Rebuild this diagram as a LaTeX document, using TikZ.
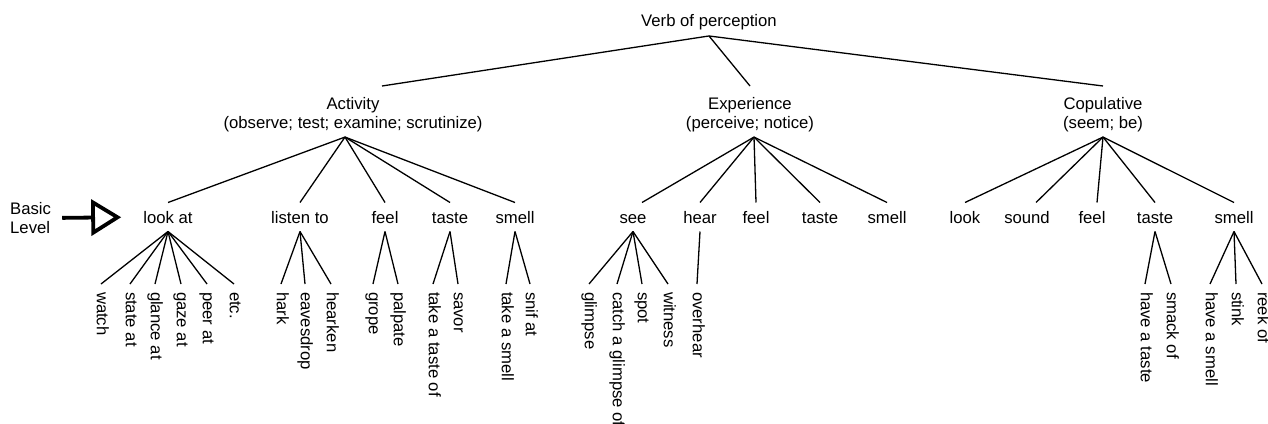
\documentclass[tikz,border=0pt]{standalone}
\usepackage{fontspec}
\setmainfont{Liberation Sans}
\usetikzlibrary{arrows.meta}

\begin{document}
\begin{tikzpicture}[
        x=1pt, y=-1pt,
        font=\fontsize{16.7}{19}\selectfont,
        cat/.style={align=center, inner sep=0pt, outer ysep=5.5pt, anchor=north},
        levelword/.style={inner sep=0pt, text height=12pt, text depth=0pt, outer ysep=8.5pt, anchor=base},
        leaf/.style={rotate=-90, anchor=west, inner sep=0pt, text height=12pt, text depth=3.5pt, outer xsep=8pt},
        link/.style={line width=1.3pt},
        pointer/.style={line width=3.8pt, -{Triangle[open,length=30pt,width=36pt]}, shorten <=11pt, shorten >=22pt}
    ]
        \useasboundingbox (0,0) rectangle (1268,423);

        % top and the three kinds
        \node[anchor=base, inner sep=0pt, outer ysep=6.5pt] (root) at (709,26) {Verb of perception};
        \node[cat] (act) at (353,91.5) {Activity\\(observe; test; examine; scrutinize)};
        \node[cat] (exp) at (750,91.5) {Experience\\(perceive; notice)};
        \node[cat] (cop) at (1103,91.5) {Copulative\\(seem; be)};

        \draw[link] (root.south) -- ([xshift=29pt,yshift=5.5pt]act.north);
        \draw[link] (root.south) -- ([yshift=5.5pt]exp.north);
        \draw[link] (root.south) -- ([yshift=5.5pt]cop.north);

        % basic level words
        \node[levelword] (lookat) at (168,223) {look at};
        \node[levelword] (listento) at (300,223) {listen to};
        \node[levelword] (feela) at (385,223) {feel};
        \node[levelword] (tastea) at (450,223) {taste};
        \node[levelword] (smella) at (515,223) {smell};
        \node[levelword] (see) at (633,223) {see};
        \node[levelword] (hear) at (700,223) {hear};
        \node[levelword] (feele) at (756,223) {feel};
        \node[levelword] (tastee) at (820,223) {taste};
        \node[levelword] (smelle) at (887,223) {smell};
        \node[levelword] (look) at (965,223) {look};
        \node[levelword] (sound) at (1027,223) {sound};
        \node[levelword] (feelc) at (1092,223) {feel};
        \node[levelword] (tastec) at (1155,223) {taste};
        \node[levelword] (smellc) at (1234,223) {smell};

        \draw[link] ([xshift=-8pt]act.south) -- (lookat.north);
        \draw[link] ([xshift=-8pt]act.south) -- (listento.north);
        \draw[link] ([xshift=-8pt]act.south) -- (feela.north);
        \draw[link] ([xshift=-8pt]act.south) -- (tastea.north);
        \draw[link] ([xshift=-8pt]act.south) -- (smella.north);
        \draw[link] ([xshift=4pt]exp.south) -- ([xshift=9pt]see.north);
        \draw[link] ([xshift=4pt]exp.south) -- (hear.north);
        \draw[link] ([xshift=4pt]exp.south) -- (feele.north);
        \draw[link] ([xshift=4pt]exp.south) -- (tastee.north);
        \draw[link] ([xshift=4pt]exp.south) -- (smelle.north);
        \draw[link] (cop.south) -- (look.north);
        \draw[link] (cop.south) -- ([xshift=9pt]sound.north);
        \draw[link] (cop.south) -- ([xshift=5pt]feelc.north);
        \draw[link] (cop.south) -- (tastec.north);
        \draw[link] (cop.south) -- (smellc.north);

        % Basic Level pointer
        \node[anchor=west, align=left, inner sep=0pt] (basiclevel) at (10,218) {Basic\\Level};
        \draw[pointer] (basiclevel.east) -- (lookat.west);

        % hyponyms
        \node[leaf] (watch) at (101,284) {watch};
        \node[leaf] (stateat) at (130,284) {state at};
        \node[leaf] (glanceat) at (155,284) {glance at};
        \node[leaf] (gazeat) at (181,284) {gaze at};
        \node[leaf] (peerat) at (207,284) {peer at};
        \node[leaf] (etc) at (234,284) {etc.};
        \node[leaf] (hark) at (281,284) {hark};
        \node[leaf] (eavesdrop) at (305,284) {eavesdrop};
        \node[leaf] (hearken) at (331,284) {hearken};
        \node[leaf] (grope) at (373,284) {grope};
        \node[leaf] (palpate) at (398,284) {palpate};
        \node[leaf] (tasteof) at (433,284) {take a taste of};
        \node[leaf] (savor) at (458,284) {savor};
        \node[leaf] (takesmell) at (506,284) {take a smell};
        \node[leaf] (snifat) at (530,284) {snif at};
        \node[leaf] (glimpse) at (589,284) {glimpse};
        \node[leaf] (catch) at (617,284) {catch a glimpse of};
        \node[leaf] (spot) at (642,284) {spot};
        \node[leaf] (witness) at (668,284) {witness};
        \node[leaf] (overhear) at (697,284) {overhear};
        \node[leaf] (haveataste) at (1145,284) {have a taste};
        \node[leaf] (smackof) at (1171,284) {smack of};
        \node[leaf] (haveasmell) at (1210,284) {have a smell};
        \node[leaf] (stink) at (1236,284) {stink};
        \node[leaf] (reekof) at (1262,284) {reek of};

        \draw[link] (lookat.south) -- (watch.west);
        \draw[link] (lookat.south) -- (stateat.west);
        \draw[link] (lookat.south) -- (glanceat.west);
        \draw[link] (lookat.south) -- (gazeat.west);
        \draw[link] (lookat.south) -- (peerat.west);
        \draw[link] (lookat.south) -- (etc.west);
        \draw[link] (listento.south) -- (hark.west);
        \draw[link] (listento.south) -- (eavesdrop.west);
        \draw[link] (listento.south) -- (hearken.west);
        \draw[link] (feela.south) -- (grope.west);
        \draw[link] (feela.south) -- (palpate.west);
        \draw[link] (tastea.south) -- (tasteof.west);
        \draw[link] (tastea.south) -- (savor.west);
        \draw[link] (smella.south) -- (takesmell.west);
        \draw[link] (smella.south) -- (snifat.west);
        \draw[link] (see.south) -- (glimpse.west);
        \draw[link] (see.south) -- (catch.west);
        \draw[link] (see.south) -- (spot.west);
        \draw[link] (see.south) -- (witness.west);
        \draw[link] (hear.south) -- (overhear.west);
        \draw[link] (tastec.south) -- (haveataste.west);
        \draw[link] (tastec.south) -- (smackof.west);
        \draw[link] (smellc.south) -- (haveasmell.west);
        \draw[link] (smellc.south) -- (stink.west);
        \draw[link] (smellc.south) -- (reekof.west);
    \end{tikzpicture}
\end{document}
